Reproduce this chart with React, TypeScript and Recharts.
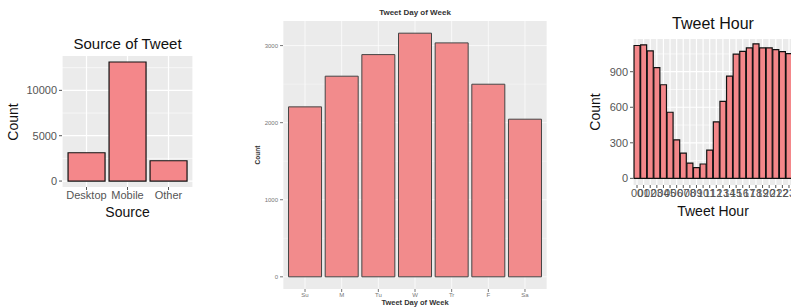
import React from "react";
import { Bar, BarChart, CartesianGrid, XAxis, YAxis } from "recharts";

const sourceCats = ["Desktop", "Mobile", "Other"];
const sourceCounts = [3120, 13130, 2240];
const sourceTicks = [0, 5000, 10000];
const sourceMinor = [2500, 7500, 12500];

const dayCats = ["Su", "M", "Tu", "W", "Tr", "F", "Sa"];
const dayCounts = [2205, 2603, 2883, 3161, 3035, 2499, 2045];
const dayTicks = [0, 1000, 2000, 3000];
const dayMinor = [500, 1500, 2500];

const hourCats = [
  "00", "01", "02", "03", "04", "05", "06", "07", "08", "09", "10", "11",
  "12", "13", "14", "15", "16", "17", "18", "19", "20", "21", "22", "23"
];
const hourCounts = [
  1121, 1127, 1075, 934, 790, 558, 325, 213, 129, 90, 121, 239,
  477, 650, 862, 1049, 1072, 1101, 1135, 1101, 1101, 1086, 1069, 1052
];
const hourTicks = [0, 300, 600, 900];
const hourMinor = [150, 450, 750, 1050];

const toRows = (cats: string[], vals: number[]) => cats.map((name, i) => ({ name, count: vals[i] }));

const FONT = "'Liberation Sans', Arial, sans-serif";

const Txt = ({ x, y, size, bold, rotate, color, children }: any) => (
  <div
    style={{
      position: "absolute",
      left: x,
      top: y,
      transform: `translate(-50%, -50%)${rotate ? " rotate(-90deg)" : ""}`,
      fontSize: size,
      fontWeight: bold ? "bold" : "normal",
      color: color || "#111",
      whiteSpace: "nowrap",
      lineHeight: 1,
      fontFamily: FONT
    }}>
    {children}
  </div>
);

interface PanelProps {
  left: number;
  width: number;
  height: number;
  top: number;
  yWidth: number;
  xHeight: number;
  pad: number;
  rows: { name: string; count: number }[];
  domain: [number, number];
  ticks: number[];
  minor: number[];
  tickFont: number;
  tickColor: string;
  fill: string;
  stroke: string;
  strokeWidth: number;
  gridMajor: number;
  gridMinor: number;
}

const Panel = (p: PanelProps) => (
  <div style={{ position: "absolute", left: p.left, top: 0 }}>
    <BarChart
      width={p.width}
      height={p.height}
      data={p.rows}
      margin={{ top: p.top, right: 0, bottom: 0, left: 0 }}
      barCategoryGap="5%">
      <CartesianGrid fill="#EBEBEB" stroke="#FFFFFF" strokeWidth={p.gridMinor} horizontalValues={p.minor} vertical={false} />
      <CartesianGrid stroke="#FFFFFF" strokeWidth={p.gridMajor} horizontalValues={p.ticks} />
      <XAxis
        dataKey="name"
        height={p.xHeight}
        padding={{ left: p.pad, right: p.pad }}
        interval={0}
        axisLine={false}
        tickSize={3}
        tickMargin={1}
        tickLine={{ stroke: p.tickColor }}
        tick={{ fontSize: p.tickFont, fill: p.tickColor, fontFamily: FONT }}
      />
      <YAxis
        type="number"
        width={p.yWidth}
        domain={p.domain}
        ticks={p.ticks}
        interval={0}
        axisLine={false}
        tickSize={3}
        tickMargin={2}
        tickLine={{ stroke: p.tickColor }}
        tick={{ fontSize: p.tickFont, fill: p.tickColor, fontFamily: FONT }}
      />
      <Bar dataKey="count" fill={p.fill} stroke={p.stroke} strokeWidth={p.strokeWidth} isAnimationActive={false} />
    </BarChart>
  </div>
);

export default function App() {
  return (
    <div
      style={{
        position: "absolute",
        left: 0,
        top: 0,
        width: 791,
        height: 308,
        overflow: "hidden",
        background: "#FFFFFF",
        fontFamily: FONT
      }}>
      {/* source of tweet */}
      <Panel
        left={0}
        width={193}
        height={207}
        top={56}
        yWidth={62}
        xHeight={20}
        pad={4}
        rows={toRows(sourceCats, sourceCounts)}
        domain={[-656, 13790]}
        ticks={sourceTicks}
        minor={sourceMinor}
        tickFont={11}
        tickColor="#555555"
        fill="#F4878A"
        stroke="#111111"
        strokeWidth={1.2}
        gridMajor={1.2}
        gridMinor={0.6}
      />
      <Txt x={127.5} y={43} size={15}>Source of Tweet</Txt>
      <Txt x={13} y={122} size={14} rotate>Count</Txt>
      <Txt x={127.5} y={212} size={14}>Source</Txt>

      {/* day of week */}
      <Panel
        left={230}
        width={317}
        height={301}
        top={21}
        yWidth={53}
        xHeight={12}
        pad={3.7}
        rows={toRows(dayCats, dayCounts)}
        domain={[-158, 3319]}
        ticks={dayTicks}
        minor={dayMinor}
        tickFont={6}
        tickColor="#777777"
        fill="#F28B8C"
        stroke="#444444"
        strokeWidth={1}
        gridMajor={0.7}
        gridMinor={0.35}
      />
      <Txt x={415} y={13} size={8} bold color="#333">Tweet Day of Week</Txt>
      <Txt x={258} y={155} size={6.5} bold rotate color="#333">Count</Txt>
      <Txt x={415} y={303} size={7.5} bold color="#333">Tweet Day of Week</Txt>

      {/* tweet hour */}
      <Panel
        left={580}
        width={213}
        height={209}
        top={39}
        yWidth={53}
        xHeight={24}
        pad={0.7}
        rows={toRows(hourCats, hourCounts)}
        domain={[-56, 1176]}
        ticks={hourTicks}
        minor={hourMinor}
        tickFont={11}
        tickColor="#555555"
        fill="#F4878A"
        stroke="#111111"
        strokeWidth={1.2}
        gridMajor={1.2}
        gridMinor={0.6}
      />
      <Txt x={713} y={24} size={16}>Tweet Hour</Txt>
      <Txt x={595} y={112} size={14} rotate>Count</Txt>
      <Txt x={713} y={211} size={14}>Tweet Hour</Txt>
    </div>
  );
}
